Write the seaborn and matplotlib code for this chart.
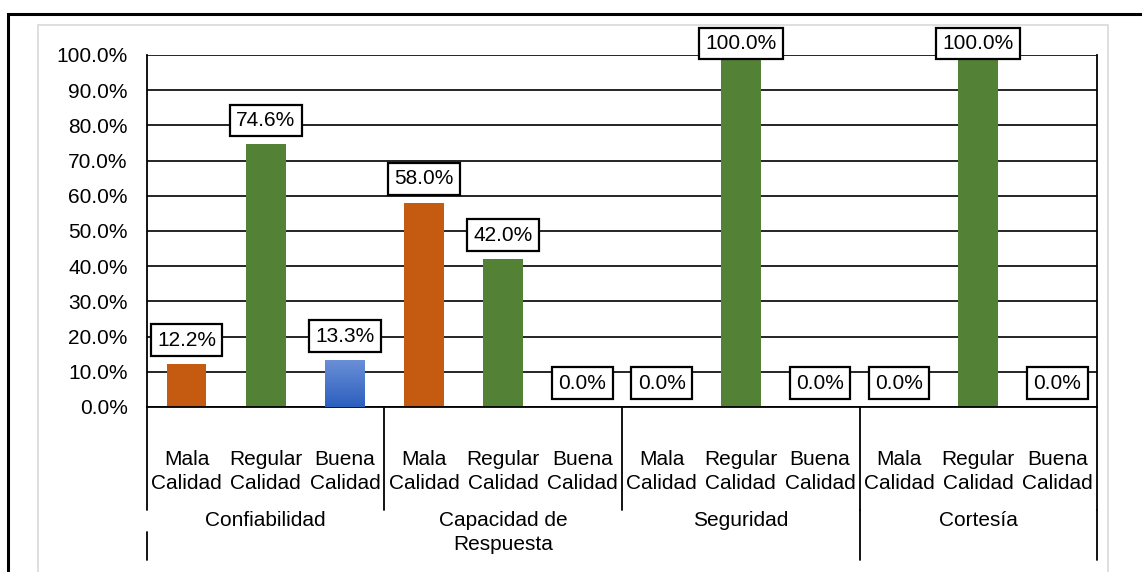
import matplotlib
matplotlib.use("Agg")
import matplotlib.pyplot as plt
import numpy as np
import pandas as pd
import seaborn as sns
from matplotlib.patches import Rectangle
from matplotlib.colors import LinearSegmentedColormap

dimensions = ["Confiabilidad", "Capacidad de\nRespuesta", "Seguridad", "Cortesía"]
qualities = ["Mala\nCalidad", "Regular\nCalidad", "Buena\nCalidad"]
values = [
    [12.2, 74.6, 13.3],
    [58.0, 42.0, 0.0],
    [0.0, 100.0, 0.0],
    [0.0, 100.0, 0.0],
]
colors = {"Mala\nCalidad": "#C55A11", "Regular\nCalidad": "#538135", "Buena\nCalidad": "#4472C4"}
y_ticks = [0, 10, 20, 30, 40, 50, 60, 70, 80, 90, 100]

rows = []
for d, vals in zip(dimensions, values):
    for q, v in zip(qualities, vals):
        rows.append({"slot": f"{d}|{q}", "dimension": d, "quality": q, "pct": v})
df = pd.DataFrame(rows)

sns.set_style("white")
plt.rcParams["font.family"] = ["Liberation Sans", "DejaVu Sans"]
plt.rcParams["text.color"] = "black"
plt.rcParams["xtick.color"] = "black"
plt.rcParams["ytick.color"] = "black"
FS = 15

fig = plt.figure(figsize=(11.42, 5.72), dpi=100)
ax = fig.add_axes([147 / 1142, 1 - 407 / 572, 950 / 1142, 352 / 572])

sns.barplot(data=df, x="slot", y="pct", hue="quality", palette=colors,
            dodge=False, width=0.5, legend=False, ax=ax, saturation=1)

# gradient fill for the blue bars
grad = LinearSegmentedColormap.from_list("g", ["#2C5FBE", "#6A8FD7"])
for patch in ax.patches:
    fc = patch.get_facecolor()
    patch.set_edgecolor("none")
    if patch.get_height() > 0 and abs(fc[2] - 0.77) < 0.05 and fc[0] < 0.3:
        x0, y0 = patch.get_x(), patch.get_y()
        w, h = patch.get_width(), patch.get_height()
        im = ax.imshow(np.linspace(0, 1, 100).reshape(-1, 1), cmap=grad, aspect="auto",
                       origin="lower", extent=[x0, x0 + w, y0, y0 + h], zorder=3)
        im.set_clip_path(patch)
        patch.set_facecolor("none")

ax.set_xlim(-0.5, len(df) - 0.5)
ax.set_ylim(0, 100)
ax.set_yticks(y_ticks)
ax.set_yticklabels([f"{t:.1f}%" for t in y_ticks], fontsize=FS)
ax.yaxis.grid(True, color="black", linewidth=1.2)
ax.set_axisbelow(True)
ax.tick_params(axis="y", length=0, pad=14)
ax.tick_params(axis="x", length=0, pad=31)
ax.set_xticks(range(len(df)))
ax.set_xticklabels(df["quality"], fontsize=FS, linespacing=1.35)
ax.set_xlabel("")
ax.set_ylabel("")
for s in ["left", "right", "bottom"]:
    ax.spines[s].set_color("black")
    ax.spines[s].set_linewidth(1.3)
ax.spines["top"].set_visible(False)

# data labels
for i, v in enumerate(df["pct"]):
    ypos = min(v + 6.8, 103.2)
    ax.text(i, ypos, f"{v:.1f}%", ha="center", va="center", fontsize=FS, zorder=5,
            clip_on=False,
            bbox=dict(boxstyle="square,pad=0.3", fc="white", ec="black", lw=1.6))

# group separators and labels
ax_h = 352
for k in range(len(dimensions) + 1):
    x = k * 3 - 0.5
    ax.plot([x, x], [0, -103 / ax_h * 100], color="black", lw=1.3, clip_on=False)
for x in [-0.5]:
    ax.plot([x, x], [-125 / ax_h * 100, -153 / ax_h * 100], color="black", lw=1.3, clip_on=False)
for x in [8.5, 11.5]:
    ax.plot([x, x], [-103 / ax_h * 100, -153 / ax_h * 100], color="black", lw=1.3, clip_on=False)

for k, d in enumerate(dimensions):
    ax.text(k * 3 + 1, -104 / ax_h * 100, d, ha="center", va="top", fontsize=FS,
            linespacing=1.3, clip_on=False)

# chart frames
fig.patches.append(Rectangle((38 / 1142, -0.1), (1108 - 38) / 1142, 1.1 - 25 / 572,
                             transform=fig.transFigure, fill=False, ec="#D9D9D9", lw=1.2))
fig.patches.append(Rectangle((8 / 1142, -0.1), 1.2, 1.1 - 14 / 572,
                             transform=fig.transFigure, fill=False, ec="black", lw=2.2))

fig.savefig("out.png", dpi=100)
